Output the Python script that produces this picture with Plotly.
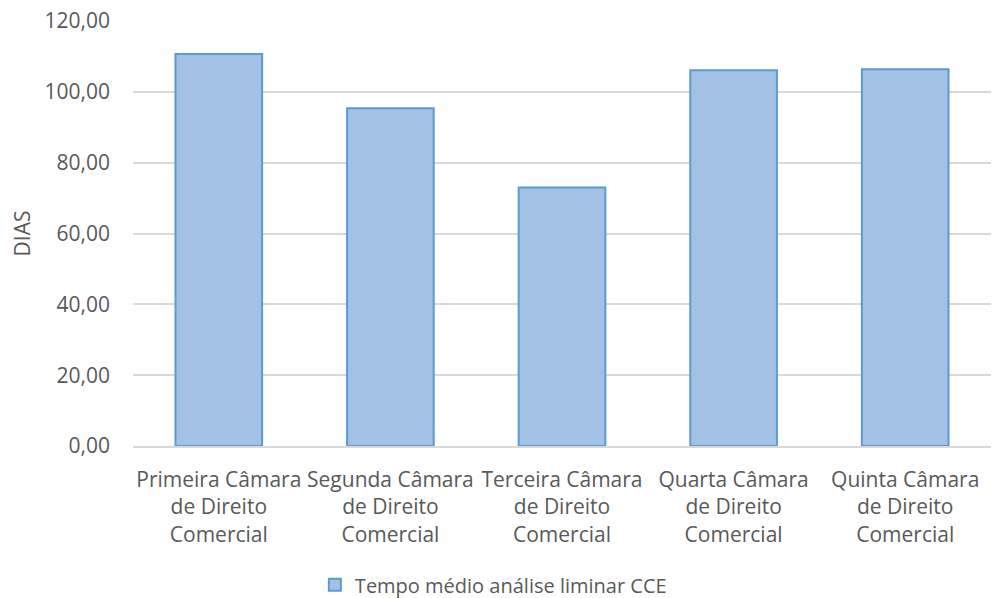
import plotly.graph_objects as go

# Average preliminary analysis time (days) per commercial law chamber
camaras = [
    "Primeira Câmara<br>de Direito<br>Comercial",
    "Segunda Câmara<br>de Direito<br>Comercial",
    "Terceira Câmara<br>de Direito<br>Comercial",
    "Quarta Câmara<br>de Direito<br>Comercial",
    "Quinta Câmara<br>de Direito<br>Comercial",
]
tempo_medio = [110.7, 95.4, 73.0, 106.1, 106.4]
y_ticks = [0, 20, 40, 60, 80, 100, 120]
y_tick_labels = ["0,00", "20,00", "40,00", "60,00", "80,00", "100,00", "120,00"]

TEXT = "#595959"
FONT = "Open Sans"

fig = go.Figure()
fig.add_trace(go.Bar(
    x=camaras,
    y=tempo_medio,
    name="Tempo médio análise liminar CCE",
    marker=dict(color="#a3c1e5", line=dict(color="#5b9bd5", width=2)),
    width=0.505,
))

fig.update_layout(
    width=999,
    height=598,
    margin=dict(l=133, r=8, t=21, b=152),
    paper_bgcolor="white",
    plot_bgcolor="white",
    font=dict(family=FONT, color=TEXT, size=21),
    showlegend=True,
    legend=dict(
        orientation="h",
        x=0.42, xanchor="center",
        yref="container",
        y=0.022, yanchor="middle",
        font=dict(size=20, color=TEXT),
        itemwidth=30,
    ),
    xaxis=dict(
        showgrid=False,
        showline=True,
        linecolor="#d9d9d9",
        linewidth=1.5,
        tickfont=dict(size=21, color=TEXT),
        ticks="",
        ticklabelstandoff=14,
        automargin=False,
    ),
    yaxis=dict(
        range=[0, 120],
        tickvals=y_ticks,
        ticktext=y_tick_labels,
        showgrid=True,
        gridcolor="#d9d9d9",
        gridwidth=1.5,
        zeroline=False,
        showline=False,
        ticks="",
        ticklabelstandoff=22,
        tickfont=dict(size=21, color=TEXT),
        title=dict(text="DIAS", font=dict(size=21, color=TEXT), standoff=8),
        automargin=False,
    ),
)

fig.write_html("out.html")
